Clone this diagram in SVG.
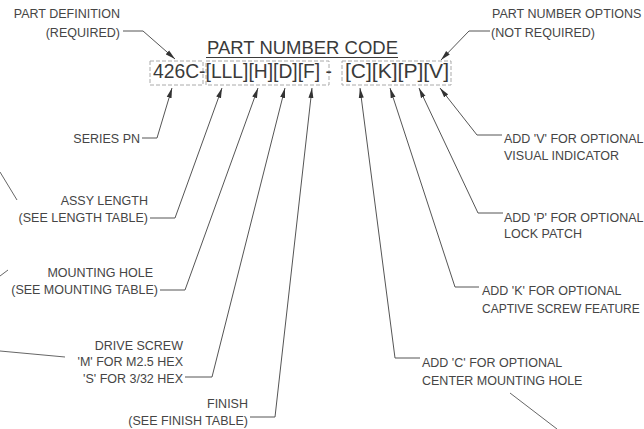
<svg xmlns="http://www.w3.org/2000/svg" width="644" height="429" viewBox="0 0 644 429">
<defs>
<style>
.lbl{font-family:"Liberation Sans",Arial,sans-serif;font-size:12.5px;fill:#454545}
.r{text-anchor:end}
.code{font-family:"Liberation Sans",Arial,sans-serif;font-size:21px;fill:#3a3a3a}
.title{font-family:"Liberation Sans",Arial,sans-serif;font-size:18px;fill:#3a3a3a}
.ld{fill:none;stroke:#555;stroke-width:1;marker-end:url(#ah)}
.st{fill:none;stroke:#666;stroke-width:1}
.box{fill:none;stroke:#aaa;stroke-width:1;stroke-dasharray:4 2}
</style>
<marker id="ah" markerUnits="userSpaceOnUse" markerWidth="10" markerHeight="6" refX="10" refY="3" orient="auto">
<path d="M0,0.5 L10,3 L0,5.5 Z" fill="#333"/>
</marker>
</defs>
<rect width="644" height="429" fill="#fff"/>

<g id="code">
<text class="title" x="207" y="54" textLength="191" lengthAdjust="spacingAndGlyphs">PART NUMBER CODE</text>
<line x1="206" y1="57.5" x2="398" y2="57.5" stroke="#3a3a3a" stroke-width="1.2"/>
<rect class="box" x="150" y="61" width="53" height="24"/>
<rect class="box" x="206" y="61" width="123" height="24"/>
<rect class="box" x="342" y="61" width="109" height="24"/>
<text class="code" x="153" y="78" textLength="179" lengthAdjust="spacingAndGlyphs">426C-[LLL][H][D][F] -</text>
<text class="code" x="345" y="78" textLength="104" lengthAdjust="spacingAndGlyphs">[C][K][P][V]</text>
</g>

<g id="part-definition"><text class="lbl r" x="120" y="18">PART DEFINITION</text><text class="lbl r" x="120" y="37">(REQUIRED)</text></g>
<g id="part-number-options"><text class="lbl" x="492" y="18">PART NUMBER OPTIONS</text><text class="lbl" x="491" y="37">(NOT REQUIRED)</text></g>
<g id="series-pn"><text class="lbl r" x="140" y="143">SERIES PN</text></g>
<g id="assy-length"><text class="lbl r" x="148" y="205">ASSY LENGTH</text><text class="lbl r" x="148" y="222">(SEE LENGTH TABLE)</text></g>
<g id="mounting-hole"><text class="lbl r" x="153" y="277">MOUNTING HOLE</text><text class="lbl r" x="158" y="294">(SEE MOUNTING TABLE)</text></g>
<g id="drive-screw"><text class="lbl r" x="183" y="350">DRIVE SCREW</text><text class="lbl r" x="183" y="366">'M' FOR M2.5 HEX</text><text class="lbl r" x="183" y="383">'S' FOR 3/32 HEX</text></g>
<g id="finish"><text class="lbl r" x="248" y="408">FINISH</text><text class="lbl r" x="248" y="425">(SEE FINISH TABLE)</text></g>
<g id="opt-v"><text class="lbl" x="504" y="143">ADD 'V' FOR OPTIONAL</text><text class="lbl" x="504" y="160">VISUAL INDICATOR</text></g>
<g id="opt-p"><text class="lbl" x="504" y="222">ADD 'P' FOR OPTIONAL</text><text class="lbl" x="504" y="238">LOCK PATCH</text></g>
<g id="opt-k"><text class="lbl" x="482" y="295">ADD 'K' FOR OPTIONAL</text><text class="lbl" x="482" y="313" style="font-size:12px">CAPTIVE SCREW FEATURE</text></g>
<g id="opt-c"><text class="lbl" x="422" y="367">ADD 'C' FOR OPTIONAL</text><text class="lbl" x="422" y="385">CENTER MOUNTING HOLE</text></g>

<g id="connectors">
<path class="ld" d="M123,31 H143 L175,59"/>
<path class="ld" d="M490,31 H469 L441,60"/>
<path class="ld" d="M142,138 H157 L172,88"/>
<path class="ld" d="M150,218 H175 L222,88"/>
<path class="ld" d="M160,290 H185 L258,88"/>
<path class="ld" d="M185,377 H212 L285,88"/>
<path class="ld" d="M250,417 H275 L312,88"/>
<path class="ld" d="M420,358 H395 L360,88"/>
<path class="ld" d="M479,287 H455 L390,88"/>
<path class="ld" d="M503,213 H478 L419,88"/>
<path class="ld" d="M502,135 H477 L440,88"/>
<path class="st" d="M0,172 L17,200"/>
<path class="st" d="M0,276 L8,270"/>
<path class="st" d="M0,351 L65,357"/>
<path class="st" d="M510,393 L557,429"/>
</g>
</svg>
